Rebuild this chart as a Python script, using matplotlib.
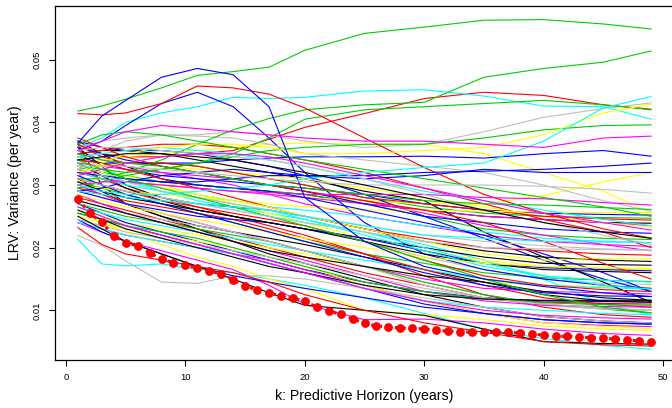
import numpy as np
import matplotlib
matplotlib.use("Agg")
import matplotlib.pyplot as plt

plt.rcParams['font.family'] = ['Liberation Sans', 'DejaVu Sans']

k_knots = [1, 3, 5, 8, 11, 14, 17, 20, 25, 30, 35, 40, 45, 49]

# R palette letters: k r g b c m y a(=gray)
palette = {'k': '#000000', 'r': '#FF0000', 'g': '#00CD00', 'b': '#0000FF',
           'c': '#00FFFF', 'm': '#FF00FF', 'y': '#FFFF00', 'a': '#BEBEBE'}

# bulk of the paths, LRV in units of 1e-3
bulk_cols = "krgbcmyakrgbcmyakrgbcmyakrgbcmyakrgbcmyakrgbcmyakrgbcmkk"
bulk_lrv = [
    [37.0, 35.0, 33.0, 31.0, 30.0, 29.5, 29.0, 28.5, 27.0, 26.0, 25.0, 24.5, 24.0, 23.9],
    [36.5, 34.5, 33.5, 33.5, 33.0, 32.0, 31.0, 30.0, 28.0, 27.0, 26.0, 25.0, 24.6, 24.4],
    [35.0, 34.0, 33.5, 33.0, 32.0, 31.0, 30.0, 29.5, 28.5, 27.5, 27.0, 26.8, 26.4, 26.1],
    [34.5, 33.5, 32.5, 31.5, 31.0, 30.5, 30.0, 29.5, 28.5, 27.0, 26.0, 25.5, 25.3, 25.2],
    [33.5, 32.0, 30.5, 29.5, 28.5, 27.5, 26.5, 26.0, 25.0, 23.5, 22.5, 21.5, 21.0, 20.8],
    [35.5, 34.0, 33.0, 32.0, 31.0, 30.0, 28.5, 27.0, 25.0, 23.5, 22.0, 21.0, 20.5, 20.2],
    [30.0, 29.5, 29.0, 28.5, 28.0, 27.5, 27.0, 26.5, 26.0, 26.0, 25.8, 25.7, 25.6, 25.6],
    [32.5, 31.5, 30.5, 29.0, 28.0, 27.0, 26.0, 25.0, 23.5, 22.0, 21.0, 20.3, 19.8, 19.6],
    [36.0, 33.0, 30.0, 28.0, 27.0, 26.5, 26.0, 25.0, 23.0, 21.0, 19.5, 18.5, 18.0, 17.8],
    [34.0, 33.5, 32.5, 31.0, 29.5, 28.0, 26.5, 25.0, 23.0, 21.5, 20.0, 19.5, 19.0, 18.8],
    [33.0, 32.0, 31.5, 30.5, 30.0, 29.5, 29.0, 28.5, 27.0, 25.0, 23.0, 22.0, 21.5, 21.3],
    [36.0, 35.0, 34.0, 33.0, 32.0, 31.0, 30.0, 29.0, 27.0, 25.0, 24.0, 23.0, 22.5, 22.3],
    [31.5, 30.0, 29.0, 28.0, 27.0, 26.0, 25.0, 24.0, 22.5, 20.0, 17.5, 15.5, 14.0, 13.4],
    [32.0, 31.0, 30.5, 30.0, 29.5, 29.0, 28.5, 28.0, 27.0, 26.0, 25.0, 24.5, 24.0, 23.5],
    [33.0, 32.0, 31.0, 29.5, 28.5, 27.5, 26.5, 25.0, 23.0, 21.0, 19.0, 18.0, 18.3, 18.3],
    [29.5, 29.0, 28.0, 27.0, 26.0, 25.0, 24.0, 23.0, 21.0, 18.5, 16.5, 15.0, 14.3, 14.1],
    [33.5, 31.5, 29.5, 27.5, 26.0, 25.0, 24.0, 23.0, 21.5, 20.0, 18.5, 17.5, 17.3, 17.2],
    [31.0, 30.0, 29.0, 27.5, 26.5, 25.5, 24.5, 23.5, 21.0, 18.0, 15.5, 14.0, 13.3, 13.0],
    [30.5, 29.5, 28.5, 27.0, 25.5, 24.0, 22.5, 21.0, 19.0, 17.5, 16.0, 15.2, 14.8, 14.6],
    [29.0, 28.0, 27.0, 26.0, 25.0, 24.5, 24.0, 23.0, 21.5, 19.5, 17.5, 16.8, 16.5, 16.3],
    [35.0, 33.0, 31.0, 29.0, 27.5, 26.5, 25.5, 24.5, 22.5, 20.5, 18.0, 15.0, 11.0, 9.3],
    [30.0, 28.5, 27.0, 25.5, 24.0, 22.5, 21.0, 19.5, 17.0, 15.0, 13.5, 13.0, 12.8, 12.6],
    [28.5, 27.5, 26.5, 25.5, 24.5, 23.5, 22.5, 21.5, 20.0, 18.5, 17.5, 17.0, 16.8, 16.7],
    [27.5, 26.5, 25.5, 24.5, 23.5, 22.5, 21.0, 19.5, 17.0, 14.5, 12.5, 11.0, 10.3, 10.0],
    [30.5, 29.0, 28.0, 27.0, 26.0, 25.0, 24.0, 23.0, 21.0, 19.0, 17.5, 16.5, 16.2, 16.0],
    [28.0, 27.0, 26.0, 24.5, 23.0, 21.5, 20.0, 18.5, 16.0, 14.0, 12.0, 11.3, 11.1, 11.0],
    [27.0, 26.0, 25.0, 24.0, 23.0, 22.0, 21.0, 19.5, 17.0, 14.5, 12.5, 11.0, 10.2, 9.6],
    [31.5, 30.0, 28.5, 27.0, 25.5, 24.0, 22.5, 21.0, 18.5, 16.0, 14.0, 12.8, 12.3, 12.2],
    [26.5, 25.5, 24.5, 23.5, 22.5, 21.5, 20.5, 19.5, 18.0, 16.5, 15.0, 14.0, 13.6, 13.4],
    [28.5, 27.0, 25.5, 24.0, 22.5, 21.0, 19.5, 18.0, 15.5, 13.0, 11.5, 10.8, 10.6, 10.5],
    [26.0, 25.0, 24.0, 23.0, 22.0, 21.0, 20.0, 19.0, 17.0, 15.5, 14.5, 14.0, 13.8, 13.7],
    [29.0, 28.0, 27.0, 25.5, 24.0, 22.5, 21.0, 19.5, 17.0, 14.0, 12.0, 10.8, 10.2, 10.0],
    [26.0, 24.5, 23.0, 21.5, 20.0, 18.5, 17.0, 16.0, 14.0, 12.5, 11.8, 11.6, 11.6, 11.6],
    [32.5, 31.0, 29.5, 28.0, 26.5, 25.0, 23.5, 22.0, 19.0, 15.5, 12.5, 10.5, 9.3, 8.9],
    [25.5, 24.5, 23.5, 22.5, 21.5, 20.0, 18.5, 17.0, 14.5, 13.0, 11.8, 11.2, 10.9, 10.8],
    [27.0, 25.5, 24.0, 22.5, 21.0, 19.5, 18.0, 16.5, 14.5, 13.0, 12.0, 11.5, 11.4, 11.3],
    [24.0, 23.0, 22.0, 21.0, 20.0, 19.0, 17.5, 16.0, 13.5, 11.5, 10.5, 10.0, 9.5, 9.3],
    [26.5, 25.0, 23.5, 22.0, 20.5, 19.0, 17.5, 16.0, 13.5, 11.5, 10.0, 9.2, 8.8, 8.6],
    [25.0, 24.0, 23.0, 22.0, 21.0, 20.0, 18.5, 17.0, 14.0, 11.5, 9.5, 8.0, 7.4, 7.1],
    [24.5, 23.5, 22.5, 21.5, 20.5, 19.5, 18.5, 17.5, 15.5, 13.5, 12.0, 11.0, 10.4, 10.0],
    [31.0, 29.0, 27.0, 25.0, 23.0, 21.0, 19.0, 17.5, 15.0, 12.5, 10.5, 9.0, 8.3, 8.0],
    [29.5, 28.5, 27.5, 26.5, 25.5, 24.5, 23.0, 21.5, 19.0, 16.5, 14.0, 12.0, 11.0, 10.5],
    [34.0, 32.5, 31.0, 29.5, 28.0, 26.5, 25.0, 23.5, 21.0, 18.0, 15.0, 12.5, 10.5, 9.6],
    [25.5, 24.5, 23.5, 22.0, 20.5, 19.0, 17.5, 16.0, 13.5, 11.0, 9.5, 8.5, 8.0, 7.8],
    [32.0, 31.0, 30.0, 29.0, 28.0, 27.0, 26.0, 24.5, 22.0, 19.5, 17.0, 15.5, 14.8, 14.5],
    [24.0, 23.0, 22.0, 21.0, 20.0, 19.0, 18.0, 16.5, 14.0, 11.5, 9.5, 8.0, 7.6, 7.4],
    [34.5, 33.0, 31.5, 30.0, 28.5, 27.0, 25.5, 24.0, 21.5, 19.5, 18.0, 17.0, 16.7, 16.5],
    [31.0, 30.0, 29.0, 28.0, 27.0, 26.0, 25.0, 24.0, 22.5, 21.0, 20.0, 19.8, 19.7, 19.6],
    [35.0, 35.5, 35.5, 35.0, 34.0, 33.0, 32.0, 31.0, 29.0, 27.5, 22.5, 18.5, 14.5, 11.3],
    [37.5, 36.0, 34.5, 33.0, 32.0, 31.0, 30.0, 29.0, 27.5, 26.0, 24.0, 21.0, 17.5, 15.0],
    [32.5, 33.0, 33.5, 33.5, 33.0, 32.0, 31.0, 30.0, 28.0, 26.5, 25.5, 25.0, 24.8, 24.7],
    [33.0, 32.0, 31.0, 30.5, 30.0, 29.5, 29.0, 28.0, 26.0, 24.0, 22.0, 19.0, 16.0, 13.0],
    [29.0, 28.5, 28.0, 27.5, 27.0, 26.5, 26.0, 25.0, 23.5, 22.0, 21.5, 21.0, 20.9, 20.8],
    [33.5, 33.0, 32.5, 32.0, 31.5, 31.0, 30.0, 29.0, 27.5, 25.5, 23.5, 22.0, 20.5, 19.5],
    [27.5, 26.5, 25.5, 24.0, 22.5, 21.0, 19.5, 18.5, 17.0, 15.5, 14.5, 13.0, 12.0, 11.6],
    [36.5, 30.0, 27.0, 25.0, 23.5, 22.5, 21.5, 20.5, 18.5, 16.5, 14.5, 12.5, 11.5, 11.3],
]

# paths that stay high or rise, LRV in units of 1e-3
upper_cols = "gbbrrgcaycgmbbybaamygkrgbcmya"
upper_lrv = [
    [41.8, 42.6, 43.7, 45.5, 47.5, 48.1, 48.8, 51.5, 54.2, 55.2, 56.3, 56.4, 55.7, 54.9],
    [36.7, 41.0, 43.5, 47.2, 48.6, 47.6, 42.5, 28.0, 21.0, 17.0, 15.0, 13.8, 12.8, 12.2],
    [35.5, 37.0, 39.5, 43.0, 44.8, 42.5, 37.5, 32.0, 24.0, 19.0, 16.5, 15.0, 14.0, 13.5],
    [41.4, 41.2, 41.5, 43.0, 45.8, 45.5, 44.5, 42.3, 37.5, 32.8, 28.5, 25.5, 23.0, 21.5],
    [36.5, 35.0, 34.5, 34.5, 35.0, 35.5, 37.3, 39.2, 41.4, 43.8, 44.8, 44.3, 42.8, 42.1],
    [31.0, 31.0, 32.0, 34.0, 36.5, 38.8, 40.6, 42.0, 42.8, 43.2, 47.2, 48.6, 49.6, 51.4],
    [30.0, 29.0, 28.5, 28.5, 29.0, 29.5, 30.0, 31.0, 32.0, 32.8, 33.5, 37.0, 42.3, 44.1],
    [34.0, 35.5, 37.0, 38.0, 38.0, 38.5, 38.0, 37.0, 36.0, 36.5, 38.5, 40.8, 42.2, 43.1],
    [31.5, 33.5, 35.0, 36.0, 36.5, 36.5, 36.0, 35.0, 35.0, 35.5, 36.0, 38.0, 41.5, 42.9],
    [36.0, 37.5, 40.0, 41.5, 42.5, 44.0, 43.8, 44.0, 45.0, 45.2, 44.2, 42.6, 42.5, 40.5],
    [33.0, 32.5, 32.0, 32.5, 33.5, 34.5, 35.5, 36.0, 36.5, 36.5, 37.5, 38.8, 39.5, 39.6],
    [35.5, 37.0, 38.5, 39.5, 39.0, 38.5, 38.0, 37.5, 37.0, 37.0, 36.5, 36.0, 37.5, 37.8],
    [34.0, 33.5, 33.5, 33.5, 33.5, 34.0, 34.3, 34.5, 34.5, 34.6, 34.3, 35.0, 35.5, 34.6],
    [32.0, 31.5, 31.0, 30.5, 30.5, 31.0, 31.5, 31.5, 31.5, 32.0, 32.2, 32.5, 33.0, 33.5],
    [30.5, 31.0, 30.5, 30.0, 29.5, 29.0, 28.5, 28.0, 27.5, 27.0, 27.0, 28.3, 30.5, 32.0],
    [29.0, 29.5, 30.5, 31.5, 32.0, 32.5, 32.0, 31.5, 31.0, 31.5, 32.5, 32.0, 32.0, 32.0],
    [33.0, 33.0, 33.0, 32.5, 32.0, 31.5, 31.0, 30.5, 30.0, 30.0, 30.0, 29.8, 29.3, 28.7],
    [36.0, 37.0, 37.5, 38.0, 37.8, 37.5, 36.5, 35.0, 34.0, 33.0, 32.0, 30.0, 27.5, 25.8],
    [30.0, 30.5, 30.5, 30.0, 29.5, 29.0, 28.8, 28.5, 28.5, 28.5, 28.0, 27.8, 27.2, 26.8],
    [33.5, 34.0, 34.5, 35.0, 35.5, 36.0, 36.5, 36.7, 36.5, 36.5, 35.0, 32.0, 29.0, 25.6],
    [29.5, 30.5, 31.5, 32.5, 33.5, 35.0, 37.5, 40.5, 42.0, 42.5, 43.0, 43.5, 42.8, 42.0],
    [34.0, 34.5, 35.0, 35.0, 34.5, 34.0, 33.0, 32.0, 30.0, 28.0, 26.0, 24.0, 22.5, 21.5],
    [35.0, 35.5, 36.0, 36.5, 36.5, 36.0, 35.0, 34.0, 32.0, 29.5, 27.0, 24.5, 22.5, 20.0],
    [36.5, 38.0, 38.5, 38.0, 37.0, 36.0, 35.0, 34.0, 32.5, 31.0, 29.5, 28.0, 26.5, 25.0],
    [37.0, 36.0, 35.5, 35.5, 35.0, 34.0, 33.0, 31.5, 28.5, 25.0, 21.5, 18.0, 15.0, 13.0],
    [34.5, 35.0, 35.5, 36.0, 35.5, 35.0, 34.0, 33.0, 31.0, 29.0, 27.5, 26.0, 24.5, 23.5],
    [31.5, 32.5, 33.5, 34.5, 35.0, 35.0, 34.5, 33.5, 31.5, 29.5, 27.5, 25.5, 24.0, 22.8],
    [32.0, 33.0, 33.5, 33.0, 32.5, 32.0, 31.5, 31.0, 29.5, 28.0, 26.5, 25.0, 24.0, 23.3],
    [35.5, 36.0, 36.0, 35.5, 35.0, 34.5, 34.0, 33.0, 31.0, 28.5, 26.0, 24.0, 22.0, 20.5],
]

# paths that start low and end under the average, LRV in units of 1e-3
low_cols = "carmkyb"
low_lrv = [
    [21.3, 17.4, 17.1, 17.4, 16.5, 16.0, 15.0, 14.0, 12.0, 9.5, 7.0, 5.5, 4.4, 3.8],
    [21.9, 20.4, 17.9, 14.5, 14.3, 15.5, 15.5, 15.0, 13.5, 12.0, 10.5, 9.0, 8.3, 8.0],
    [23.2, 20.5, 19.0, 18.0, 17.0, 16.0, 14.5, 12.5, 10.0, 8.0, 6.5, 5.0, 4.5, 4.3],
    [24.0, 22.5, 21.0, 19.5, 18.0, 16.5, 14.0, 11.0, 8.5, 8.6, 8.0, 7.0, 6.3, 6.0],
    [25.0, 23.0, 21.0, 19.0, 17.0, 15.0, 12.8, 10.8, 10.0, 9.2, 7.0, 5.0, 4.7, 4.6],
    [26.0, 24.0, 22.5, 20.5, 18.5, 17.0, 15.0, 13.5, 10.0, 9.3, 8.5, 7.5, 7.0, 6.8],
    [24.5, 22.5, 21.0, 19.0, 17.0, 15.5, 14.5, 13.5, 12.0, 10.5, 9.5, 8.5, 8.0, 7.8],
]

# average LRV at every horizon (red dots), units of 1e-3
k_mean = list(range(1, 50))
lrv_mean = [27.77, 25.48, 24.05, 21.86, 20.79, 20.26, 19.19, 18.19, 17.60, 17.23,
            16.75, 16.27, 15.79, 14.84, 13.88, 13.24, 12.76, 12.28, 11.91, 11.44,
            10.53, 9.89, 9.36, 8.66, 7.92, 7.50, 7.38, 7.17, 7.13, 7.02,
            6.86, 6.65, 6.59, 6.49, 6.49, 6.54, 6.49, 6.38, 6.27, 6.01,
            5.85, 5.85, 5.74, 5.63, 5.53, 5.42, 5.26, 5.10, 4.94]

fig = plt.figure(figsize=(6.72, 4.08), dpi=100)
ax = fig.add_axes([55 / 672, 48 / 408, 619 / 672, 354 / 408])

cols = bulk_cols + upper_cols + low_cols
paths = bulk_lrv + upper_lrv + low_lrv
order = np.argsort([(i * 37) % len(paths) for i in range(len(paths))])
for i in order:
    ax.plot(k_knots, np.array(paths[i]) / 1000, color=palette[cols[i]], lw=0.8)

ax.plot(k_mean, np.array(lrv_mean) / 1000, color='red', lw=2.2,
        linestyle=(0, (1, 1.6)), marker='o', ms=5.3, mec='red', mfc='red')

ax.set_xlim(-0.92, 50.92)
ax.set_ylim(0.00207, 0.05857)
ax.set_xticks([0, 10, 20, 30, 40, 50])
ax.set_yticks([0.01, 0.02, 0.03, 0.04, 0.05])
ax.set_yticklabels(['0.01', '0.02', '0.03', '0.04', '0.05'], rotation=90, va='center')
ax.tick_params(direction='out', length=4.5, width=0.8, labelsize=6.8, pad=5)
for s in ax.spines.values():
    s.set_linewidth(0.9)

ax.set_xlabel('k: Predictive Horizon (years)', fontsize=10.2, labelpad=5)
ax.set_ylabel('LRV: Variance (per year)', fontsize=10.2, labelpad=8)

fig.savefig('out.png', dpi=100)
